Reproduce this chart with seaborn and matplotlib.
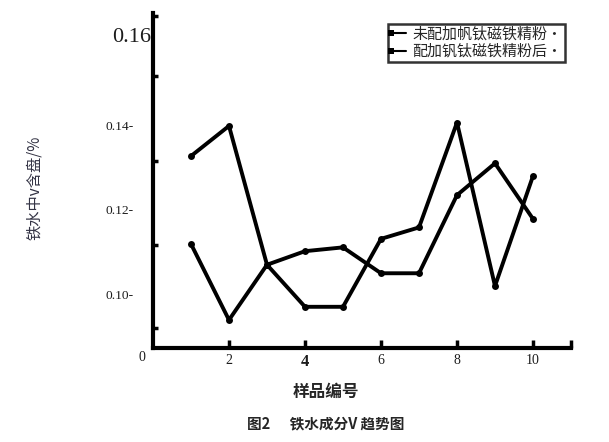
import pandas as pd
import matplotlib.pyplot as plt
import seaborn as sns

# -----------------------------
# Data
# -----------------------------
samples = [1, 2, 3, 4, 5, 6, 7, 8, 9, 10]
before_v = [0.1327, 0.1398, 0.1071, 0.0972, 0.0972, 0.1132, 0.1159, 0.1406, 0.1021, 0.1280]
after_v = [0.1120, 0.0941, 0.1071, 0.1103, 0.1112, 0.1051, 0.1051, 0.1235, 0.1310, 0.1179]
series_names = ["未配加帆钛磁铁精粉·", "配加钒钛磁铁精粉后·"]

y_ticks = [0.10, 0.12, 0.14, 0.16]
y_tick_labels = ["0.10-", "0.12-", "0.14-", "0.16"]
y_minor = [0.0922, 0.1118, 0.1315, 0.1515, 0.1657]
x_ticks = [2, 4, 6, 8, 10]
x_tick_labels = ["2", "4", "6", "8", "10"]

df = pd.DataFrame({
    "样品编号": samples * 2,
    "V": before_v + after_v,
    "系列": [series_names[0]] * len(samples) + [series_names[1]] * len(samples),
})

sns.set_style("white")
plt.rcParams['font.family'] = ['Noto Sans CJK SC', 'DejaVu Sans']

fig = plt.figure(figsize=(6.09, 4.42), dpi=100)
ax = fig.add_axes([0.2512, 0.2127, 0.6864, 0.7579])

sns.lineplot(
    data=df, x="样品编号", y="V", hue="系列",
    palette=["black", "black"], marker="o", markersize=5,
    markeredgewidth=0, linewidth=2.8, ax=ax,
)

ax.set_xlim(0, 11)
ax.set_ylim(0.0875, 0.1664)

for side in ["top", "right"]:
    ax.spines[side].set_visible(False)
for side in ["left", "bottom"]:
    ax.spines[side].set_linewidth(3)
    ax.spines[side].set_color("black")

serif = ['Liberation Serif', 'DejaVu Serif']

# y axis: labels carry their own dash, small dots on the spine
ax.set_yticks(y_ticks)
ax.set_yticklabels(y_tick_labels[:-1] + [""], family=serif, fontsize=9.7, color="#1c1c1c")
ax.text(-0.06, 0.1607, y_tick_labels[-1], family=serif, fontsize=16,
        color="#1c1c1c", ha="right", va="center")
ax.tick_params(axis="y", which="major", left=True, length=0, pad=14)
ax.set_yticks(y_minor, minor=True)
ax.tick_params(axis="y", which="minor", left=True, direction="in", length=3.5,
               width=2.5, color="black")

# x axis: inward ticks
ax.set_xticks(x_ticks + [11])
ax.set_xticklabels(x_tick_labels + [""], family=serif, fontsize=10, color="#1c1c1c")
ax.get_xticklabels()[1].set_fontweight("bold")
ax.get_xticklabels()[1].set_fontsize(12)
ax.tick_params(axis="x", bottom=True, direction="in", length=6, width=2.5,
               color="black", pad=4)

ax.text(-0.2, 0.0853, "0", family=serif, fontsize=10, color="#1c1c1c",
        ha="right", va="center")

ax.set_xlabel("")
ax.set_ylabel("")

leg = ax.legend(
    loc="upper right", bbox_to_anchor=(0.986, 0.967), frameon=True,
    fancybox=False, edgecolor="black", fontsize=10.8, handlelength=1.0,
    handletextpad=0.4, borderpad=0.2, labelspacing=0.2, borderaxespad=0,
)
leg.get_frame().set_linewidth(1.8)
for h in leg.legend_handles:
    h.set_linewidth(1.5)
    h.set_markevery([0])
    h.set_marker("s")
    h.set_markersize(4)

fig.text(0.0575, 0.575, "铁水中v含盘/%", rotation=90, ha="center", va="center",
         fontsize=11, fontweight="light", color="#333344")
fig.text(0.535, 0.113, "样品编号", ha="center", va="center",
         fontsize=12, fontweight="bold")
fig.text(0.535, 0.043, "图2      铁水成分V 趋势图", ha="center", va="center",
         fontsize=10.5, fontweight="bold")

plt.savefig("out.png", dpi=100)
